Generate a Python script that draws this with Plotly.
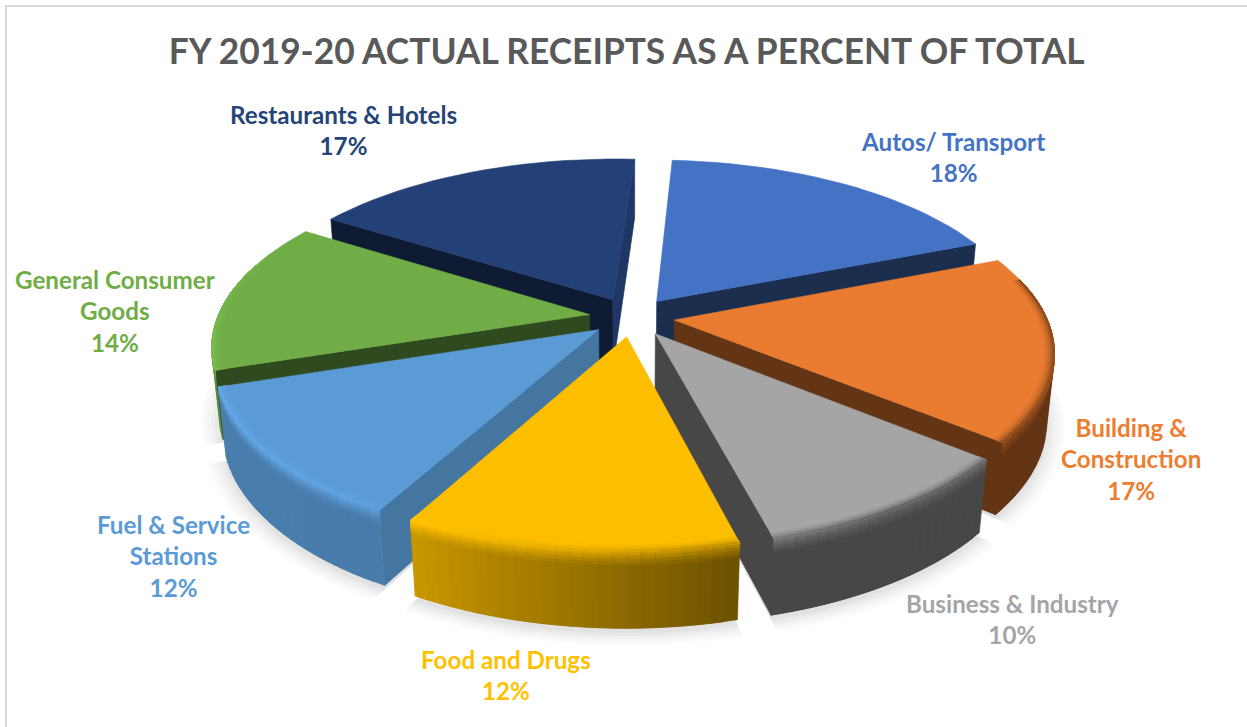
import math
import plotly.graph_objects as go

# Receipts by sector, clockwise from twelve o'clock
categories = ["Autos/ Transport", "Building &<br>Construction", "Business & Industry",
              "Food and Drugs", "Fuel & Service<br>Stations", "General Consumer<br>Goods",
              "Restaurants & Hotels"]
shares = [18, 17, 10, 12, 12, 14, 17]

top_colors = ["#4472c4", "#e97c30", "#a5a5a5", "#fdbe00", "#5b9bd5", "#70ad47", "#234177"]
label_colors = ["#4472c4", "#ed7d31", "#a5a5a5", "#ffc000", "#5b9bd5", "#70ad47", "#264478"]
start_face = [.43, .43, .43, .43, .76, .43, .42]
end_face = [.40, .43, .43, .43, .43, .43, .85]
label_x = [953, 1131, 1012, 506, 173, 115, 343]
label_y = [157, 459, 619, 675, 556, 311, 130]

# Scene geometry for the exploded, tilted pie
FIRST_ANGLE = 3.5
EXPLODE = 0.115
THICKNESS = 0.205
TILT = math.asin(0.458)
CAM = 5.2
SCALE = 372
CX, CY = 632, 317
STEPS = 24

def project(X, Y, Z):
    yc = Y * math.sin(TILT) + Z * math.cos(TILT)
    zc = Y * math.cos(TILT) - Z * math.sin(TILT)
    s = CAM / (CAM + zc)
    return CX + SCALE * X * s, CY - SCALE * yc * s

CAM_Y = -CAM * math.cos(TILT)

def faces_viewer(nx, ny, X, Y):
    return nx * (0 - X) + ny * (CAM_Y - Y) > 0

def rgb(hex_color):
    return [int(hex_color[i:i + 2], 16) for i in (1, 3, 5)]

def shade(hex_color, k):
    return "rgb(%d,%d,%d)" % tuple(min(255, max(0, round(c * k))) for c in rgb(hex_color))

def ramp(deg, pts):
    deg %= 360
    for (a0, b0), (a1, b1) in zip(pts, pts[1:]):
        if a0 <= deg <= a1:
            return b0 + (b1 - b0) * (deg - a0) / (a1 - a0)
    return pts[0][1]

WALL = [(0, .43), (166, .43), (209, .80), (300, .82), (360, .43)]
RIM = [(0, .62), (150, .62), (185, .90), (215, 1.06), (260, 1.08), (300, 1.0), (360, .62)]

fig = go.Figure()

def poly(points, fill, outline=True):
    xs = [p[0] for p in points] + [points[0][0]]
    ys = [p[1] for p in points] + [points[0][1]]
    fig.add_trace(go.Scatter(
        x=xs, y=ys, mode="lines", fill="toself", fillcolor=fill, hoverinfo="skip",
        line=dict(color=fill if outline else "rgba(0,0,0,0)", width=0.6), showlegend=False))

# Angular extent of every slice
total = sum(shares)
slices = []
angle = FIRST_ANGLE
for share, top in zip(shares, top_colors):
    sweep = 360 * share / total
    slices.append((angle, angle + sweep, top))
    angle += sweep

def rim_point(a, ox, oy, r, z):
    th = math.radians(a)
    return ox + r * math.sin(th), oy + r * math.cos(th), z

def offsets(a0, a1):
    mid = math.radians((a0 + a1) / 2)
    return EXPLODE * math.sin(mid), EXPLODE * math.cos(mid)

# Soft ground shadow under the whole pie
for grow, alpha in [(1.045, .012), (1.036, .014), (1.027, .016), (1.018, .018), (1.009, .022), (1.0, .026)]:
    for a0, a1, _ in slices:
        ox, oy = offsets(a0, a1)
        oy2 = oy - .02
        pts = [project(ox, oy2, -THICKNESS)]
        for i in range(STEPS + 1):
            a = a0 + (a1 - a0) * i / STEPS
            pts.append(project(*rim_point(a, ox, oy2, grow, -THICKNESS)))
        poly(pts, "rgba(0,0,0,%.3f)" % alpha, outline=False)

# Paint from back to front
order = sorted(range(len(slices)),
               key=lambda i: -math.cos(math.radians((slices[i][0] + slices[i][1]) / 2)))
for i in order:
    a0, a1, top = slices[i]
    ox, oy = offsets(a0, a1)
    t0, t1 = math.radians(a0), math.radians(a1)

    # Cut faces along the two straight edges
    for th, nx, ny, k in [(t0, -math.cos(t0), math.sin(t0), start_face[i]),
                          (t1, math.cos(t1), -math.sin(t1), end_face[i])]:
        ex, ey = ox + math.sin(th), oy + math.cos(th)
        if faces_viewer(nx, ny, (ox + ex) / 2, (oy + ey) / 2):
            poly([project(ox, oy, 0), project(ex, ey, 0),
                  project(ex, ey, -THICKNESS), project(ox, oy, -THICKNESS)], shade(top, k))

    # Outer wall, one strip per step; every strip runs under the next one.
    # The upper edge of the wall fades from the rim tone to the wall tone.
    step = (a1 - a0) / STEPS
    for j in range(STEPS):
        a = a0 + step * j
        mid = a + step / 2
        far = min(a1, a + 2 * step)
        m = math.radians(mid)
        px, py, _ = rim_point(mid, ox, oy, 1, 0)
        if not faces_viewer(math.sin(m), math.cos(m), px, py):
            continue
        wall_k = ramp(mid, WALL)
        rim_k = ramp(mid, RIM)
        arc = [a + (far - a) * n / 3 for n in range(4)]
        poly([project(*rim_point(v, ox, oy, 1, 0)) for v in arc] +
             [project(*rim_point(v, ox, oy, 1, -THICKNESS)) for v in reversed(arc)], shade(top, wall_k))
        for depth, w in [(.035, .15), (.026, .35), (.017, .6), (.008, .85)]:
            poly([project(*rim_point(v, ox, oy, 1, 0)) for v in arc] +
                 [project(*rim_point(v, ox, oy, 1, -depth)) for v in reversed(arc)],
                 shade(top, wall_k + (rim_k - wall_k) * w))

    # Top surface
    pts = [project(ox, oy, 0)]
    for j in range(STEPS + 1):
        pts.append(project(*rim_point(a0 + step * j, ox, oy, 1, 0)))
    poly(pts, top)

    # Bevel along the front of the rim, fading inwards
    for width, w in [(.024, .15), (.016, .4), (.009, .7), (.004, 1.0)]:
        for j in range(STEPS):
            a = a0 + step * j
            far = min(a1, a + 2 * step)
            mid = a + step / 2
            if math.cos(math.radians(mid)) > 0.25:
                continue
            k = 1 + (ramp(mid, RIM) - 1) * w
            arc = [a + (far - a) * n / 3 for n in range(4)]
            poly([project(*rim_point(v, ox, oy, 1 - width, 0)) for v in arc] +
                 [project(*rim_point(v, ox, oy, 1, 0)) for v in reversed(arc)], shade(top, k))

annotations = [
    dict(x=x, y=y, xref="x", yref="y", text=f"<b>{name}<br>{share}%</b>", showarrow=False,
         align="center", font=dict(family="Lato, sans-serif", size=24.2, color=color))
    for name, share, color, x, y in zip(categories, shares, label_colors, label_x, label_y)
]

fig.update_layout(
    width=1247, height=727, margin=dict(l=0, r=0, t=0, b=0),
    paper_bgcolor="white", plot_bgcolor="white", showlegend=False,
    xaxis=dict(range=[0, 1247], visible=False, fixedrange=True),
    yaxis=dict(range=[727, 0], visible=False, fixedrange=True),
    title=dict(text="<b>FY 2019-20 ACTUAL RECEIPTS AS A PERCENT OF TOTAL</b>",
               x=0.5025, xanchor="center", y=0.929, yanchor="middle",
               font=dict(family="Lato, sans-serif", size=35.3, color="#595959")),
    annotations=annotations,
    shapes=[dict(type="rect", xref="x", yref="y", x0=6, y0=6, x1=1300, y1=800,
                 line=dict(color="#d9d9d9", width=2), layer="below")],
)

fig.write_html("out.html")
